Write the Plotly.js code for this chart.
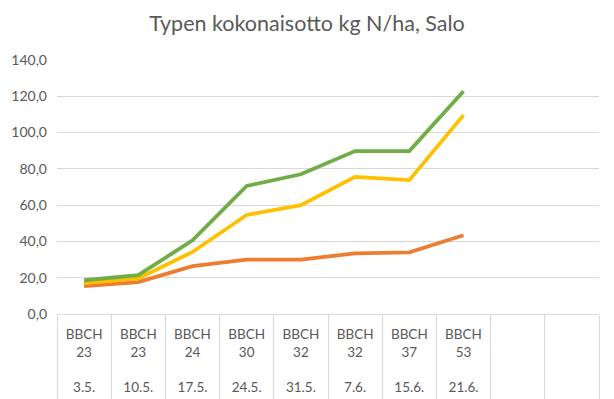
<!DOCTYPE html>
<html>
<head>
<meta charset="utf-8">
<script src="https://cdn.plot.ly/plotly-3.0.1.min.js"></script>
<style>html,body{margin:0;padding:0;background:#fff;}#chart{width:614px;height:399px;}</style>
</head>
<body>
<div id="chart"></div>
<script>
// Category labels (8 measured dates + 2 empty slots)
const dates = ['3.5.', '10.5.', '17.5.', '24.5.', '31.5.', '7.6.', '15.6.', '21.6.'];
const bbch = ['23', '23', '24', '30', '32', '32', '37', '53'];
const emptySlots = ['tyhjä 1', 'tyhjä 2'];

// Series values (kg N/ha)
const seriesOrange = [15.4, 17.6, 26.4, 30.0, 30.0, 33.4, 34.0, 43.4];
const seriesYellow = [17.0, 19.6, 34.2, 54.6, 60.0, 75.6, 73.8, 109.6];
const seriesGreen = [18.6, 21.4, 40.6, 70.6, 77.0, 89.8, 89.8, 122.8];

const yTicks = [0, 20, 40, 60, 80, 100, 120, 140];

const categories = dates.concat(emptySlots);
const tickText = dates.map((d, i) => 'BBCH<br>' + bbch[i] + '<br><br>' + d).concat(emptySlots.map(() => ''));

const FONT = 'Lato, "Liberation Sans", sans-serif';
const GREY = '#595959';

function lineTrace(y, color) {
  return {
    type: 'scatter', mode: 'lines',
    x: dates, y: y,
    line: {color: color, width: 3.8, shape: 'linear'},
    hoverinfo: 'skip', showlegend: false
  };
}

const data = [
  lineTrace(seriesOrange, '#ED7D31'),
  lineTrace(seriesYellow, '#FFC000'),
  lineTrace(seriesGreen, '#70AD47')
];

const layout = {
  width: 614, height: 399,
  margin: {l: 57, r: 15, t: 60, b: 85, pad: 0},
  paper_bgcolor: '#ffffff', plot_bgcolor: '#ffffff',
  font: {family: FONT, color: GREY, size: 13.5},
  title: {
    text: 'Typen kokonaisotto kg N/ha, Salo',
    x: 0.5, xref: 'container', xanchor: 'center',
    y: 0.94, yref: 'container', yanchor: 'middle',
    font: {family: FONT, size: 21.5, color: GREY}
  },
  showlegend: false,
  xaxis: {
    type: 'category',
    categoryorder: 'array', categoryarray: categories,
    range: [-0.5, categories.length - 0.5],
    tickmode: 'array', tickvals: categories, ticktext: tickText,
    tickson: 'boundaries',
    ticks: 'outside', ticklen: 85, tickwidth: 1, tickcolor: '#d9d9d9',
    ticklabelstandoff: 8,
    showgrid: false, zeroline: false,
    showline: true, linecolor: '#d9d9d9', linewidth: 1,
    tickfont: {family: FONT, size: 13.5, color: GREY},
    fixedrange: true
  },
  yaxis: {
    range: [0, 140],
    tickmode: 'array', tickvals: yTicks,
    tickformat: '.1f',
    showgrid: true, gridcolor: '#d9d9d9', gridwidth: 1,
    zeroline: false, showline: false, ticks: '',
    tickfont: {family: FONT, size: 14, color: GREY},
    ticklabelstandoff: 9,
    fixedrange: true
  },
  separators: ', '
};

Plotly.newPlot('chart', data, layout, {staticPlot: true, displayModeBar: false});
</script>
</body>
</html>
